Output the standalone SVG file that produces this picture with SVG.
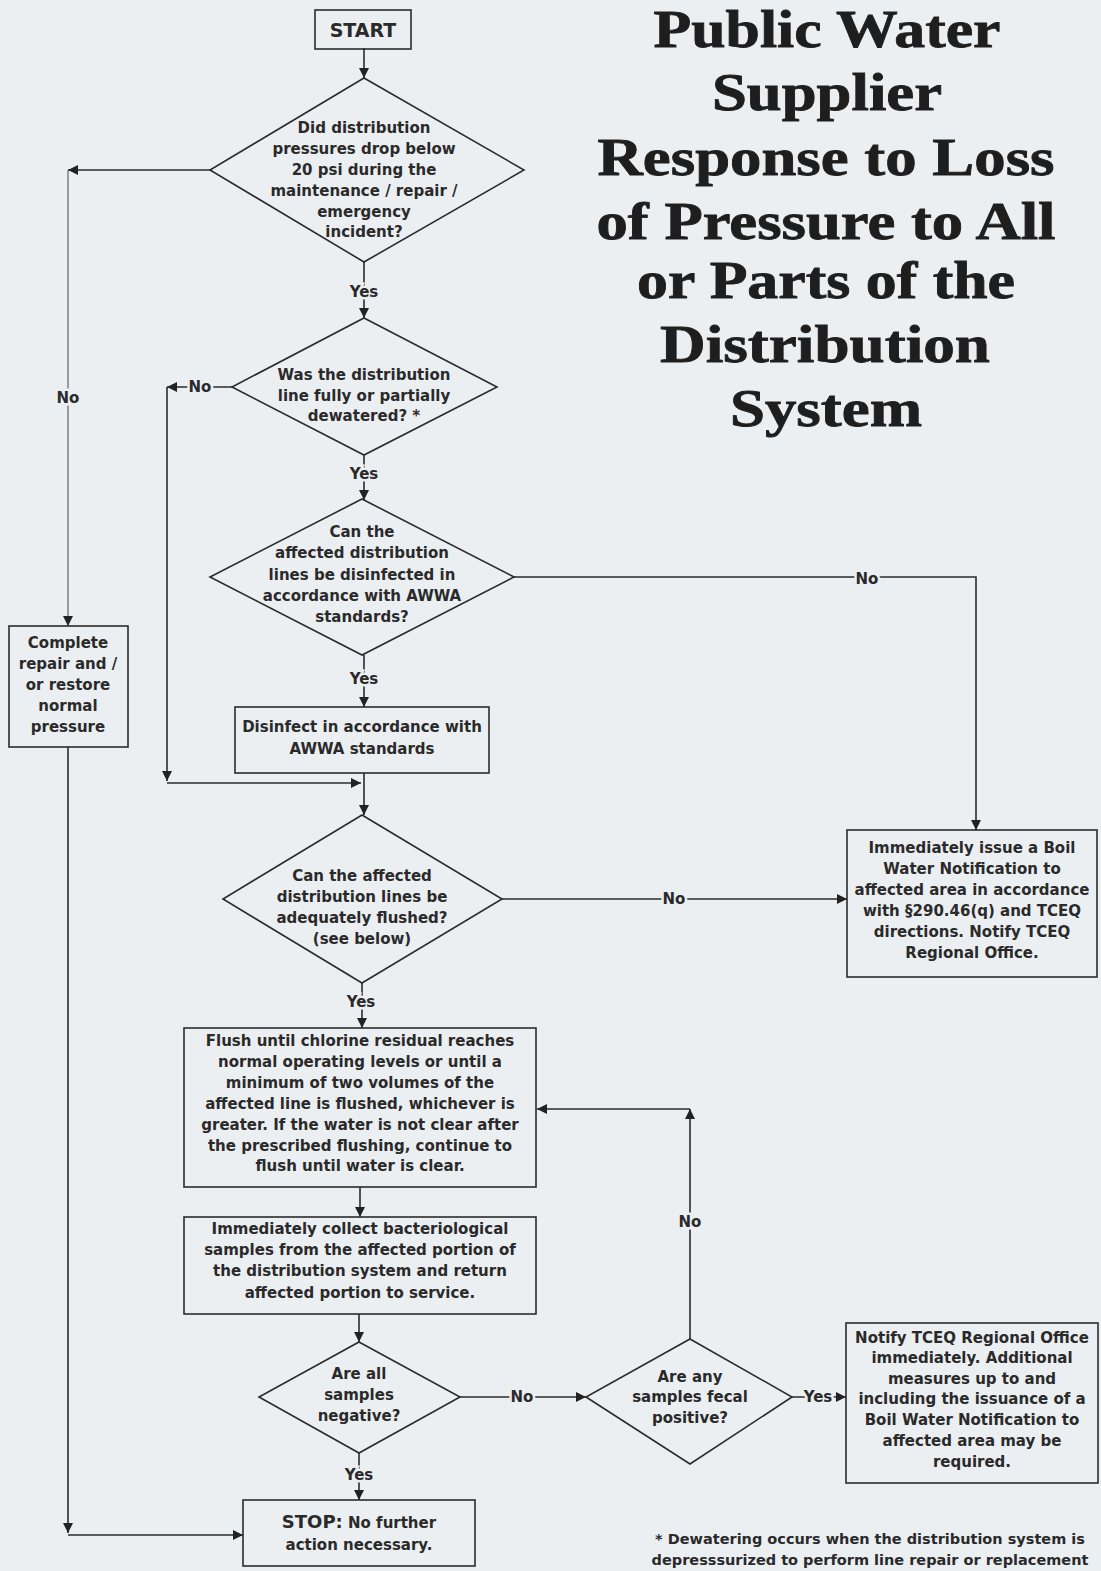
<svg xmlns="http://www.w3.org/2000/svg" width="1101" height="1571" viewBox="0 0 1101 1571">
<defs>
<style>
.bg{fill:#eceff2}
.box,.dia{fill:none;stroke:#2b2b2b;stroke-width:1.6}
.t{font-family:"DejaVu Sans",Verdana,sans-serif;font-weight:bold;font-size:15px;fill:#2a2a2a;text-anchor:middle}
.lbl{font-family:"DejaVu Sans",Verdana,sans-serif;font-weight:bold;font-size:15px;fill:#2a2a2a;text-anchor:middle;stroke:#eceff2;stroke-width:5;paint-order:stroke}
.title{font-family:"Liberation Serif","Times New Roman",serif;font-weight:bold;font-size:52px;fill:#1e1e1e;text-anchor:middle;stroke:#1e1e1e;stroke-width:0.8}
.c{fill:none;stroke:#2b2b2b;stroke-width:1.6}
.thin{fill:none;stroke:#555;stroke-width:1.1}
</style>
<marker id="ah" viewBox="0 0 10 10" refX="10" refY="5" markerWidth="10" markerHeight="10" markerUnits="userSpaceOnUse" orient="auto">
<path d="M0,0 L10,5 L0,10 z" fill="#222"/>
</marker>
</defs>
<rect class="bg" x="0" y="0" width="1101" height="1571"/>

<g id="title">
<text class="title" x="827" y="47" textLength="347" lengthAdjust="spacingAndGlyphs">Public Water</text>
<text class="title" x="827" y="110" textLength="230" lengthAdjust="spacingAndGlyphs">Supplier</text>
<text class="title" x="826" y="175" textLength="457" lengthAdjust="spacingAndGlyphs">Response to Loss</text>
<text class="title" x="826" y="239" textLength="459" lengthAdjust="spacingAndGlyphs">of Pressure to All</text>
<text class="title" x="826" y="298" textLength="378" lengthAdjust="spacingAndGlyphs">or Parts of the</text>
<text class="title" x="825" y="362" textLength="330" lengthAdjust="spacingAndGlyphs">Distribution</text>
<text class="title" x="826" y="426" textLength="192" lengthAdjust="spacingAndGlyphs">System</text>
</g>

<g id="connectors">
<path class="c" d="M364,48 V78" marker-end="url(#ah)"/>
<path class="c" d="M210,170 H68" marker-end="url(#ah)"/>
<path class="thin" d="M68,170 V626" marker-end="url(#ah)"/>
<path class="c" d="M364,262 V318" marker-end="url(#ah)"/>
<path class="c" d="M232,387 H167" marker-end="url(#ah)"/>
<path class="c" d="M167,387 V781" marker-end="url(#ah)"/>
<path class="c" d="M167,783 H361" marker-end="url(#ah)"/>
<path class="c" d="M364,455 V500" marker-end="url(#ah)"/>
<path class="c" d="M514,577 H976 V830" marker-end="url(#ah)"/>
<path class="c" d="M364,655 V707" marker-end="url(#ah)"/>
<path class="c" d="M364,773 V815" marker-end="url(#ah)"/>
<path class="c" d="M502,899 H847" marker-end="url(#ah)"/>
<path class="c" d="M362,983 V1028" marker-end="url(#ah)"/>
<path class="c" d="M360,1187 V1217" marker-end="url(#ah)"/>
<path class="c" d="M359,1314 V1342" marker-end="url(#ah)"/>
<path class="c" d="M460,1397 H586" marker-end="url(#ah)"/>
<path class="c" d="M690,1339 V1109" marker-end="url(#ah)"/>
<path class="c" d="M690,1109 H537" marker-end="url(#ah)"/>
<path class="c" d="M792,1397 H846" marker-end="url(#ah)"/>
<path class="c" d="M359,1453 V1500" marker-end="url(#ah)"/>
<path class="c" d="M68,747 V1533" marker-end="url(#ah)"/>
<path class="c" d="M68,1535 H243" marker-end="url(#ah)"/>
<text class="lbl" x="68" y="403">No</text>
<text class="lbl" x="364" y="297">Yes</text>
<text class="lbl" x="200" y="392">No</text>
<text class="lbl" x="364" y="479">Yes</text>
<text class="lbl" x="867" y="584">No</text>
<text class="lbl" x="364" y="684">Yes</text>
<text class="lbl" x="674" y="904">No</text>
<text class="lbl" x="361" y="1007">Yes</text>
<text class="lbl" x="522" y="1402">No</text>
<text class="lbl" x="690" y="1227">No</text>
<text class="lbl" x="818" y="1402">Yes</text>
<text class="lbl" x="359" y="1480">Yes</text>
</g>

<g id="start">
<rect class="box" x="315" y="10" width="96" height="39"/>
<text class="t" x="363" y="37" style="font-size:19px">START</text>
</g>

<g id="d1">
<polygon class="dia" points="364,78 524,170 364,262 210,170"/>
<text class="t" x="364" y="133">Did distribution</text>
<text class="t" x="364" y="154">pressures drop below</text>
<text class="t" x="364" y="175">20 psi during the</text>
<text class="t" x="364" y="196">maintenance / repair /</text>
<text class="t" x="364" y="217">emergency</text>
<text class="t" x="364" y="237">incident?</text>
</g>

<g id="d2">
<polygon class="dia" points="364,318 497,387 364,455 232,387"/>
<text class="t" x="364" y="380">Was the distribution</text>
<text class="t" x="364" y="401">line fully or partially</text>
<text class="t" x="364" y="421">dewatered? *</text>
</g>

<g id="d3">
<polygon class="dia" points="362,499 514,577 362,655 210,577"/>
<text class="t" x="362" y="537">Can the</text>
<text class="t" x="362" y="558">affected distribution</text>
<text class="t" x="362" y="580">lines be disinfected in</text>
<text class="t" x="362" y="601">accordance with AWWA</text>
<text class="t" x="362" y="622">standards?</text>
</g>

<g id="complete">
<rect class="box" x="9" y="626" width="119" height="121"/>
<text class="t" x="68" y="648">Complete</text>
<text class="t" x="68" y="669">repair and /</text>
<text class="t" x="68" y="690">or restore</text>
<text class="t" x="68" y="711">normal</text>
<text class="t" x="68" y="732">pressure</text>
</g>

<g id="disinfect">
<rect class="box" x="235" y="707" width="254" height="66"/>
<text class="t" x="362" y="732">Disinfect in accordance with</text>
<text class="t" x="362" y="754">AWWA standards</text>
</g>

<g id="d4">
<polygon class="dia" points="362,815 502,899 362,983 223,899"/>
<text class="t" x="362" y="881">Can the affected</text>
<text class="t" x="362" y="902">distribution lines be</text>
<text class="t" x="362" y="923">adequately flushed?</text>
<text class="t" x="362" y="944">(see below)</text>
</g>

<g id="boil">
<rect class="box" x="847" y="830" width="250" height="147"/>
<text class="t" x="972" y="853">Immediately issue a Boil</text>
<text class="t" x="972" y="874">Water Notification to</text>
<text class="t" x="972" y="895">affected area in accordance</text>
<text class="t" x="972" y="916">with §290.46(q) and TCEQ</text>
<text class="t" x="972" y="937">directions. Notify TCEQ</text>
<text class="t" x="972" y="958">Regional Office.</text>
</g>

<g id="flush">
<rect class="box" x="184" y="1028" width="352" height="159"/>
<text class="t" x="360" y="1046">Flush until chlorine residual reaches</text>
<text class="t" x="360" y="1067">normal operating levels or until a</text>
<text class="t" x="360" y="1088">minimum of two volumes of the</text>
<text class="t" x="360" y="1109">affected line is flushed, whichever is</text>
<text class="t" x="360" y="1130">greater. If the water is not clear after</text>
<text class="t" x="360" y="1151">the prescribed flushing, continue to</text>
<text class="t" x="360" y="1171">flush until water is clear.</text>
</g>

<g id="collect">
<rect class="box" x="184" y="1217" width="352" height="97"/>
<text class="t" x="360" y="1234">Immediately collect bacteriological</text>
<text class="t" x="360" y="1255">samples from the affected portion of</text>
<text class="t" x="360" y="1276">the distribution system and return</text>
<text class="t" x="360" y="1298">affected portion to service.</text>
</g>

<g id="d5">
<polygon class="dia" points="359,1342 460,1397 359,1453 259,1397"/>
<text class="t" x="359" y="1379">Are all</text>
<text class="t" x="359" y="1400">samples</text>
<text class="t" x="359" y="1421">negative?</text>
</g>

<g id="d6">
<polygon class="dia" points="690,1339 792,1397 690,1464 586,1397"/>
<text class="t" x="690" y="1382">Are any</text>
<text class="t" x="690" y="1402">samples fecal</text>
<text class="t" x="690" y="1423">positive?</text>
</g>

<g id="notify">
<rect class="box" x="846" y="1323" width="252" height="160"/>
<text class="t" x="972" y="1343">Notify TCEQ Regional Office</text>
<text class="t" x="972" y="1363">immediately. Additional</text>
<text class="t" x="972" y="1384">measures up to and</text>
<text class="t" x="972" y="1404">including the issuance of a</text>
<text class="t" x="972" y="1425">Boil Water Notification to</text>
<text class="t" x="972" y="1446">affected area may be</text>
<text class="t" x="972" y="1467">required.</text>
</g>

<g id="stop">
<rect class="box" x="243" y="1500" width="232" height="66"/>
<text class="t" x="359" y="1528"><tspan style="font-size:18px">STOP:</tspan> No further</text>
<text class="t" x="359" y="1550">action necessary.</text>
</g>

<g id="footnote">
<text class="t" x="870" y="1544" style="font-size:14.5px">* Dewatering occurs when the distribution system is</text>
<text class="t" x="870" y="1565" style="font-size:14.5px">depresssurized to perform line repair or replacement</text>
</g>
</svg>
